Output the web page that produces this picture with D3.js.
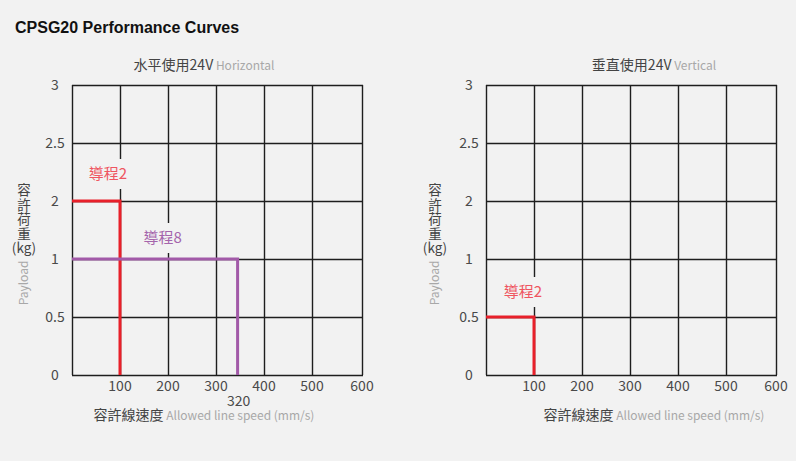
<!DOCTYPE html>
<html><head><meta charset="utf-8">
<script src="https://cdn.jsdelivr.net/npm/d3@7"></script>
<style>
html,body{margin:0;padding:0;background:#f2f2f2;}
svg{display:block;}
</style></head>
<body>
<svg id="c" width="796" height="461"></svg>
<script>
// ---- data ----
const chartTitle = "CPSG20 Performance Curves";
const panelTitlesZh = ["水平使用24V", "垂直使用24V"];
const panelTitlesEn = ["Horizontal", "Vertical"];
const xTicks = [0, 100, 200, 300, 400, 500, 600];
const yTicks = [0, 0.5, 1, 2, 2.5, 3];
const yTitleZh = ["容", "許", "荷", "重", "(kg)"];
const yTitleEn = "Payload";
const xTitleZh = "容許線速度";
const xTitleEn = "Allowed line speed (mm/s)";
// horizontal panel
const hLeads = ["導程2", "導程8"];
const hSpeeds = [100, 345];
const hLoads = [2, 1];
const hSpeedNotes = ["", "320"];
// vertical panel
const vLeads = ["導程2"];
const vSpeeds = [100];
const vLoads = [0.5];
const vSpeedNotes = [""];

// ---- styling / layout ----
const lineColors = { "導程2": "#e8202a", "導程8": "#a25aa8" };
const labelColors = { "導程2": "#ef5560", "導程8": "#a565ac" };
const svg = d3.select("#c");
const CJK = "'Noto Sans CJK TC','Noto Sans',sans-serif";

svg.append("text").attr("x", 15).attr("y", 33)
  .attr("font-family", "'Liberation Sans',Arial,sans-serif")
  .attr("font-weight", "bold").attr("font-size", 16).attr("fill", "#111")
  .text(chartTitle);

const panels = [
  { left: 72, titleCx: 204, yTitleX: 24, leads: hLeads, speeds: hSpeeds, loads: hLoads, notes: hSpeedNotes,
    labelOff: [[-12, -27], [-75, -21]] },
  { left: 486, titleCx: 654, yTitleX: 435, leads: vLeads, speeds: vSpeeds, loads: vLoads, notes: vSpeedNotes,
    labelOff: [[-11, -25]] }
];
const plotTop = 85, plotBottom = 375;

panels.forEach((p, pi) => {
  const g = svg.append("g");
  const x = d3.scaleLinear().domain(xTicks).range([0, 48, 96, 144, 192, 240, 290].map(v => p.left + v));
  const ystep = (plotBottom - plotTop) / (yTicks.length - 1);
  const y = d3.scaleLinear().domain(yTicks).range(yTicks.map((d, i) => plotBottom - i * ystep));

  // panel title
  const t = g.append("text").attr("x", p.titleCx).attr("y", 70).attr("text-anchor", "middle")
    .attr("font-family", CJK);
  t.append("tspan").attr("font-size", 14).attr("fill", "#444").text(panelTitlesZh[pi]);
  t.append("tspan").attr("font-size", 12).attr("fill", "#a8a8a8").text(" " + panelTitlesEn[pi]);

  // grid
  g.append("g").selectAll("line").data(xTicks).join("line")
    .attr("x1", d => Math.round(x(d)) + 0.5).attr("x2", d => Math.round(x(d)) + 0.5)
    .attr("y1", plotTop).attr("y2", plotBottom)
    .attr("stroke", "#1e1e1e").attr("stroke-width", 1.4);
  g.append("g").selectAll("line").data(yTicks).join("line")
    .attr("x1", x(0)).attr("x2", x(600) + 1)
    .attr("y1", d => Math.round(y(d)) + 0.5).attr("y2", d => Math.round(y(d)) + 0.5)
    .attr("stroke", "#1e1e1e").attr("stroke-width", 1.4);

  // y tick labels
  g.append("g").selectAll("text").data(yTicks).join("text")
    .attr("x", p.left - 17).attr("y", d => y(d)).attr("dy", "0.35em").attr("text-anchor", "middle")
    .attr("font-family", CJK).attr("font-size", 14).attr("fill", "#4a4a4a")
    .text(d => d);
  // x tick labels
  g.append("g").selectAll("text").data(xTicks.slice(1)).join("text")
    .attr("x", d => x(d)).attr("y", 386).attr("dy", "0.35em").attr("text-anchor", "middle")
    .attr("font-family", CJK).attr("font-size", 14).attr("fill", "#4a4a4a")
    .text(d => d);

  // y title stacked (one text per line)
  g.append("g").selectAll("text").data(yTitleZh).join("text")
    .attr("x", p.yTitleX).attr("y", (d, i) => 195 + i * 14.5)
    .attr("text-anchor", "middle").attr("font-family", CJK).attr("font-size", 13.5).attr("fill", "#444")
    .text(d => d);
  g.append("text").attr("transform", `translate(${p.yTitleX + 4},283) rotate(-90)`)
    .attr("text-anchor", "middle").attr("font-family", CJK).attr("font-size", 12).attr("fill", "#a8a8a8")
    .text(yTitleEn);

  // x title
  const xt = g.append("text").attr("x", p.titleCx).attr("y", 420).attr("text-anchor", "middle")
    .attr("font-family", CJK);
  xt.append("tspan").attr("font-size", 14).attr("fill", "#444").text(xTitleZh);
  xt.append("tspan").attr("font-size", 12).attr("fill", "#a8a8a8").text(" " + xTitleEn);

  // curves
  p.leads.forEach((lead, i) => {
    const s = p.speeds[i], l = p.loads[i];
    const path = d3.line().x(d => x(d[0])).y(d => y(d[1]));
    g.append("path").attr("d", path([[0, l], [s, l], [s, 0]]))
      .attr("fill", "none").attr("stroke", lineColors[lead]).attr("stroke-width", 3);
    // label with background box
    const lx = x(s) + p.labelOff[i][0], ly = y(l) + p.labelOff[i][1];
    g.append("rect").attr("x", lx - 24).attr("y", ly - 15).attr("width", 48).attr("height", 30)
      .attr("fill", "#f2f2f2");
    g.append("text").attr("x", lx).attr("y", ly).attr("dy", "0.35em").attr("text-anchor", "middle")
      .attr("font-family", CJK).attr("font-size", 15).attr("fill", labelColors[lead]).text(lead);
    if (p.notes[i]) {
      g.append("text").attr("x", x(s) + 1).attr("y", 401).attr("dy", "0.35em").attr("text-anchor", "middle")
        .attr("font-family", CJK).attr("font-size", 14).attr("fill", "#4a4a4a").text(p.notes[i]);
    }
  });
});
</script>
</body></html>
